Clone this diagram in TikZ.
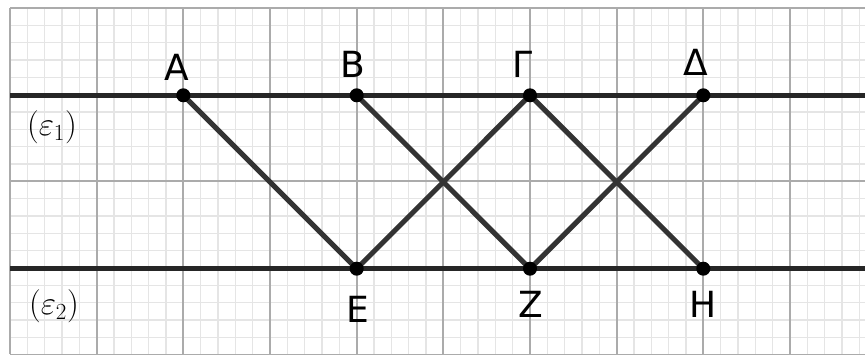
\documentclass[tikz,border=0pt]{standalone}
\usepackage{fontspec}
\setsansfont{DejaVu Sans}

\tikzset{every picture/.style={line width=0.75pt}}
\tikzset{
  minorgrid/.style={draw=black!10, line width=1.1pt},
  majorgrid/.style={draw=black!33, line width=1.6pt},
  parline/.style={draw=black!85, line width=4pt},
  seg/.style={draw=black!80, line width=3.8pt},
  ptlabel/.style={inner sep=0pt, anchor=base, font=\sffamily\fontsize{27}{30}\selectfont},
  planelabel/.style={inner sep=0pt, font=\fontsize{24}{28}\selectfont}
}

\begin{document}
\begin{tikzpicture}[x=0.75pt,y=0.75pt,yscale=-1,xscale=1]
	\useasboundingbox (0,0) rectangle (865,354);
	
	%Minor grid
	\foreach \i in {0,...,49} {
		\draw [minorgrid] (10+17.333*\i,8) -- (10+17.333*\i,354) ;
	}
	\foreach \j in {0,...,20} {
		\draw [minorgrid] (10,8+17.333*\j) -- (865,8+17.333*\j) ;
	}
	%Major grid
	\foreach \i in {0,...,9} {
		\draw [majorgrid] (10+86.667*\i,8) -- (10+86.667*\i,354) ;
	}
	\foreach \j in {0,...,4} {
		\draw [majorgrid] (10,8+86.667*\j) -- (865,8+86.667*\j) ;
	}
	
	%Points
	\coordinate (A) at (183.3,95.3) ;
	\coordinate (B) at (356.7,95.3) ;
	\coordinate (G) at (530,95.3) ;
	\coordinate (D) at (703.3,95.3) ;
	\coordinate (E) at (356.7,268.7) ;
	\coordinate (Z) at (530,268.7) ;
	\coordinate (H) at (703.3,268.7) ;
	%Line ends
	\coordinate (e1l) at (10,95.3) ;
	\coordinate (e1r) at (865,95.3) ;
	\coordinate (e2l) at (10,268.7) ;
	\coordinate (e2r) at (865,268.7) ;
	
	%Parallel lines
	\draw [parline] (e1l) -- (e1r) ;
	\draw [parline] (e2l) -- (e2r) ;
	
	%Segments
	\draw [seg] (A) -- (E) ;
	\draw [seg] (B) -- (Z) ;
	\draw [seg] (G) -- (E) ;
	\draw [seg] (G) -- (H) ;
	\draw [seg] (D) -- (Z) ;
	
	%Dots
	\foreach \p in {A,B,G,D,E,Z,H} {
		\fill [black] (\p) circle [radius=7] ;
	}
	
	% Text Node
	\node [ptlabel] (lA) at (177,80) {A};
	% Text Node
	\node [ptlabel] (lB) at (353,77) {B};
	% Text Node
	\node [ptlabel] (lG) at (523,77) {Γ};
	% Text Node
	\node [ptlabel] (lD) at (696,75) {Δ};
	% Text Node
	\node [ptlabel] (lE) at (358,322) {E};
	% Text Node
	\node [ptlabel] (lZ) at (531,317) {Z};
	% Text Node
	\node [ptlabel] (lH) at (703,317) {H};
	% Text Node
	\node [planelabel] (le1) at (52,127) {$(\varepsilon_1)$};
	% Text Node
	\node [planelabel] (le2) at (54,306) {$(\varepsilon_2)$};
	
\end{tikzpicture}
\end{document}
